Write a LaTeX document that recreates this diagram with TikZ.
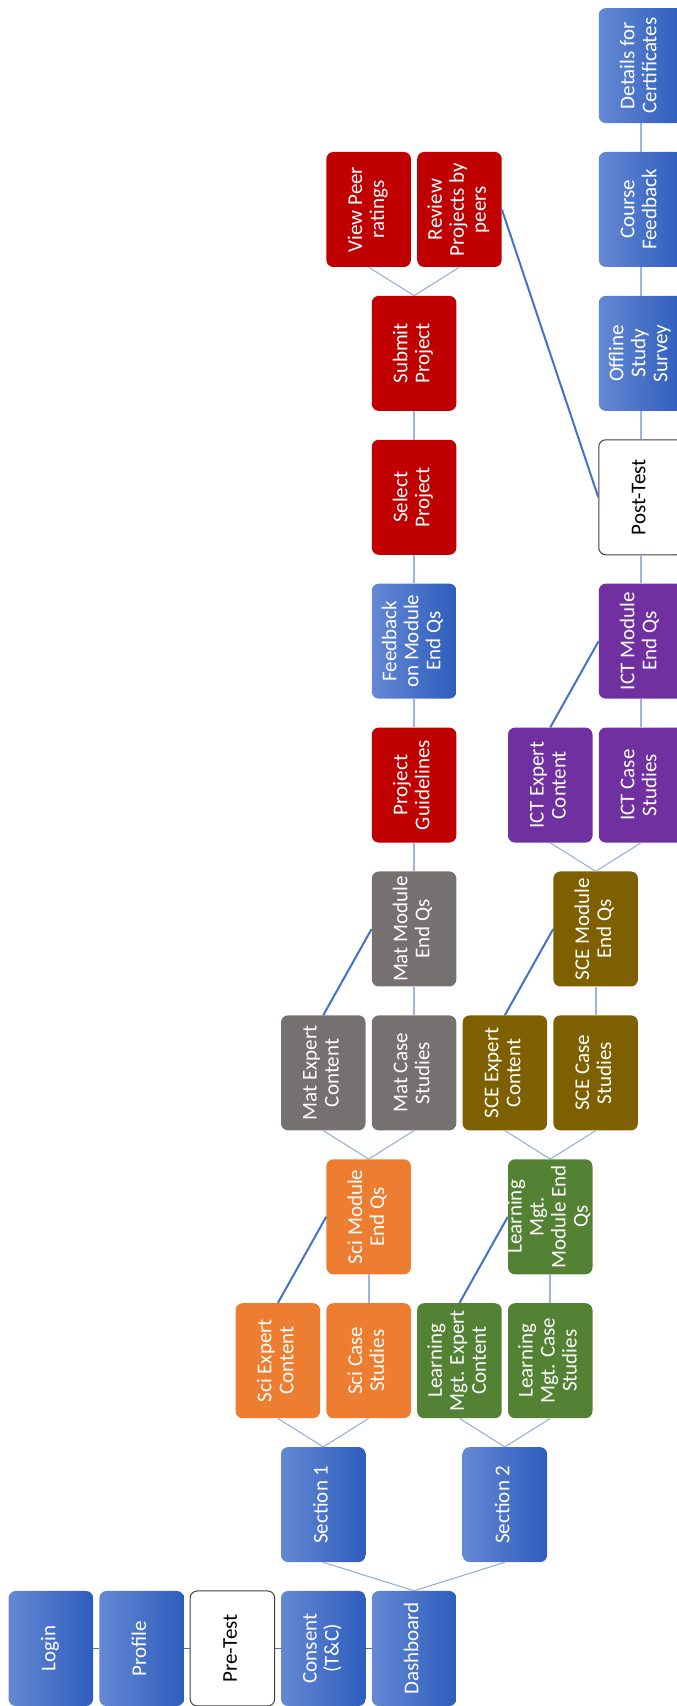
\documentclass[tikz,border=0pt]{standalone}
\usepackage{fontspec}
\setmainfont{Carlito}
\usepackage{graphicx}

\definecolor{blueL}{RGB}{100,136,211}
\definecolor{blueR}{RGB}{46,93,189}
\definecolor{orangeC}{RGB}{237,125,49}
\definecolor{greenC}{RGB}{84,130,53}
\definecolor{grayC}{RGB}{118,113,113}
\definecolor{oliveC}{RGB}{127,96,0}
\definecolor{redC}{RGB}{192,0,0}
\definecolor{purpleC}{RGB}{112,48,160}
\definecolor{lineDark}{RGB}{68,114,196}
\definecolor{lineLight}{RGB}{143,170,220}
\definecolor{lineVert}{RGB}{157,180,224}
\definecolor{frameC}{RGB}{64,64,64}

% text set bottom-to-top inside a card
\newcommand{\boxlabel}[1]{\makebox[0pt]{\rotatebox{90}{\begin{tabular}{@{}c@{}}#1\end{tabular}}}}

\begin{document}
\begin{tikzpicture}[x=45.4pt, y=143.9pt,
  card/.style={rectangle, rounded corners=7pt, minimum width=84.5pt,
    minimum height=115pt, inner sep=0pt, font=\fontsize{21}{22}\selectfont,
    text=white},
  bluecard/.style={card, left color=blueL, right color=blueR},
  orangecard/.style={card, fill=orangeC},
  greencard/.style={card, fill=greenC},
  graycard/.style={card, fill=grayC},
  olivecard/.style={card, fill=oliveC},
  redcard/.style={card, fill=redC},
  purplecard/.style={card, fill=purpleC},
  testcard/.style={card, fill=white, draw=frameC, line width=1pt, text=black},
  chainline/.style={draw=lineDark, line width=1.8pt},
  branchline/.style={draw=lineLight, line width=1pt},
  vertline/.style={draw=lineVert, line width=2.2pt},
  diagline/.style={draw=lineDark, line width=2pt}]

\useasboundingbox (0pt,0pt) rectangle (677pt,1706pt);

\begin{scope}[shift={(50.85pt,57.5pt)}]
  % entry row
  \node[bluecard] (login)   at (0,0) {\boxlabel{Login}};
  \node[bluecard] (profile) at (2,0) {\boxlabel{Profile}};
  \node[testcard] (pretest) at (4,0) {\boxlabel{Pre-Test}};
  \node[bluecard] (consent) at (6,0) {\boxlabel{Consent\\(T\&C)}};
  \node[bluecard] (dash)    at (8,0) {\boxlabel{Dashboard}};

  % sections
  \node[bluecard] (sec1) at (6,1)  {\boxlabel{Section 1}};
  \node[bluecard] (sec2) at (10,1) {\boxlabel{Section 2}};

  % first modules
  \node[orangecard] (sciexp)  at (5,2)  {\boxlabel{Sci Expert\\Content}};
  \node[orangecard] (scicase) at (7,2)  {\boxlabel{Sci Case\\Studies}};
  \node[greencard]  (lmexp)   at (9,2)  {\boxlabel{Learning\\Mgt. Expert\\Content}};
  \node[greencard]  (lmcase)  at (11,2) {\boxlabel{Learning\\Mgt. Case\\Studies}};

  \node[orangecard] (scimod) at (7,3)  {\boxlabel{Sci Module\\End Qs}};
  \node[greencard]  (lmmod)  at (11,3) {\boxlabel{Learning\\Mgt.\\Module End\\Qs}};

  % second modules
  \node[graycard]  (matexp)   at (6,4)  {\boxlabel{Mat Expert\\Content}};
  \node[graycard]  (matcase)  at (8,4)  {\boxlabel{Mat Case\\Studies}};
  \node[olivecard] (sceexp)   at (10,4) {\boxlabel{SCE Expert\\Content}};
  \node[olivecard] (scecase)  at (12,4) {\boxlabel{SCE Case\\Studies}};

  \node[graycard]  (matmod) at (8,5)  {\boxlabel{Mat Module\\End Qs}};
  \node[olivecard] (scemod) at (12,5) {\boxlabel{SCE Module\\End Qs}};

  % project track and ICT module
  \node[redcard]    (projguide) at (8,6)  {\boxlabel{Project\\Guidelines}};
  \node[purplecard] (ictexp)    at (11,6) {\boxlabel{ICT Expert\\Content}};
  \node[purplecard] (ictcase)   at (13,6) {\boxlabel{ICT Case\\Studies}};

  \node[bluecard]   (feedback) at (8,7)  {\boxlabel{Feedback\\on Module\\End Qs}};
  \node[purplecard] (ictmod)   at (13,7) {\boxlabel{ICT Module\\End Qs}};

  \node[redcard]  (select)   at (8,8)  {\boxlabel{Select\\Project}};
  \node[testcard] (posttest) at (13,8) {\boxlabel{Post-Test}};

  \node[redcard]  (submit)  at (8,9)  {\boxlabel{Submit\\Project}};
  \node[bluecard] (offline) at (13,9) {\boxlabel{Offline\\Study\\Survey}};

  \node[redcard]  (viewpeer) at (7,10)  {\boxlabel{View Peer\\ratings}};
  \node[redcard]  (review)   at (9,10)  {\boxlabel{Review\\Projects by\\peers}};
  \node[bluecard] (coursefb) at (13,10) {\boxlabel{Course\\Feedback}};

  \node[bluecard] (details) at (13,11) {\boxlabel{Details for\\Certificates}};
\end{scope}

% entry chain
\draw[chainline] (login) -- (profile);
\draw[chainline] (profile) -- (pretest);
\draw[chainline] (pretest) -- (consent);
\draw[chainline] (consent) -- (dash);

% branching connectors
\draw[branchline] (dash.north) -- (sec1.south);
\draw[branchline] (dash.north) -- (sec2.south);
\draw[branchline] (sec1.north) -- (sciexp.south);
\draw[branchline] (sec1.north) -- (scicase.south);
\draw[branchline] (sec2.north) -- (lmexp.south);
\draw[branchline] (sec2.north) -- (lmcase.south);
\draw[branchline] (scimod.north) -- (matexp.south);
\draw[branchline] (scimod.north) -- (matcase.south);
\draw[branchline] (lmmod.north) -- (sceexp.south);
\draw[branchline] (lmmod.north) -- (scecase.south);
\draw[branchline] (scemod.north) -- (ictexp.south);
\draw[branchline] (scemod.north) -- (ictcase.south);
\draw[branchline] (submit.north) -- (viewpeer.south);
\draw[branchline] (submit.north) -- (review.south);

% straight links
\draw[vertline] (scicase) -- (scimod);
\draw[vertline] (lmcase) -- (lmmod);
\draw[vertline] (matcase) -- (matmod);
\draw[vertline] (scecase) -- (scemod);
\draw[vertline] (matmod) -- (projguide);
\draw[vertline] (projguide) -- (feedback);
\draw[vertline] (ictcase) -- (ictmod);
\draw[vertline] (feedback) -- (select);
\draw[vertline] (select) -- (submit);
\draw[vertline] (ictmod) -- (posttest);
\draw[vertline] (posttest) -- (offline);
\draw[vertline] (offline) -- (coursefb);
\draw[vertline] (coursefb) -- (details);

% expert content to module end questions
\draw[diagline] (sciexp.north) -- (scimod.west);
\draw[diagline] (lmexp.north) -- (lmmod.west);
\draw[diagline] (matexp.north) -- (matmod.west);
\draw[diagline] (sceexp.north) -- (scemod.west);
\draw[diagline] (ictexp.north) -- (ictmod.west);
\draw[diagline] (review.east) -- (posttest.west);
\end{tikzpicture}
\end{document}
